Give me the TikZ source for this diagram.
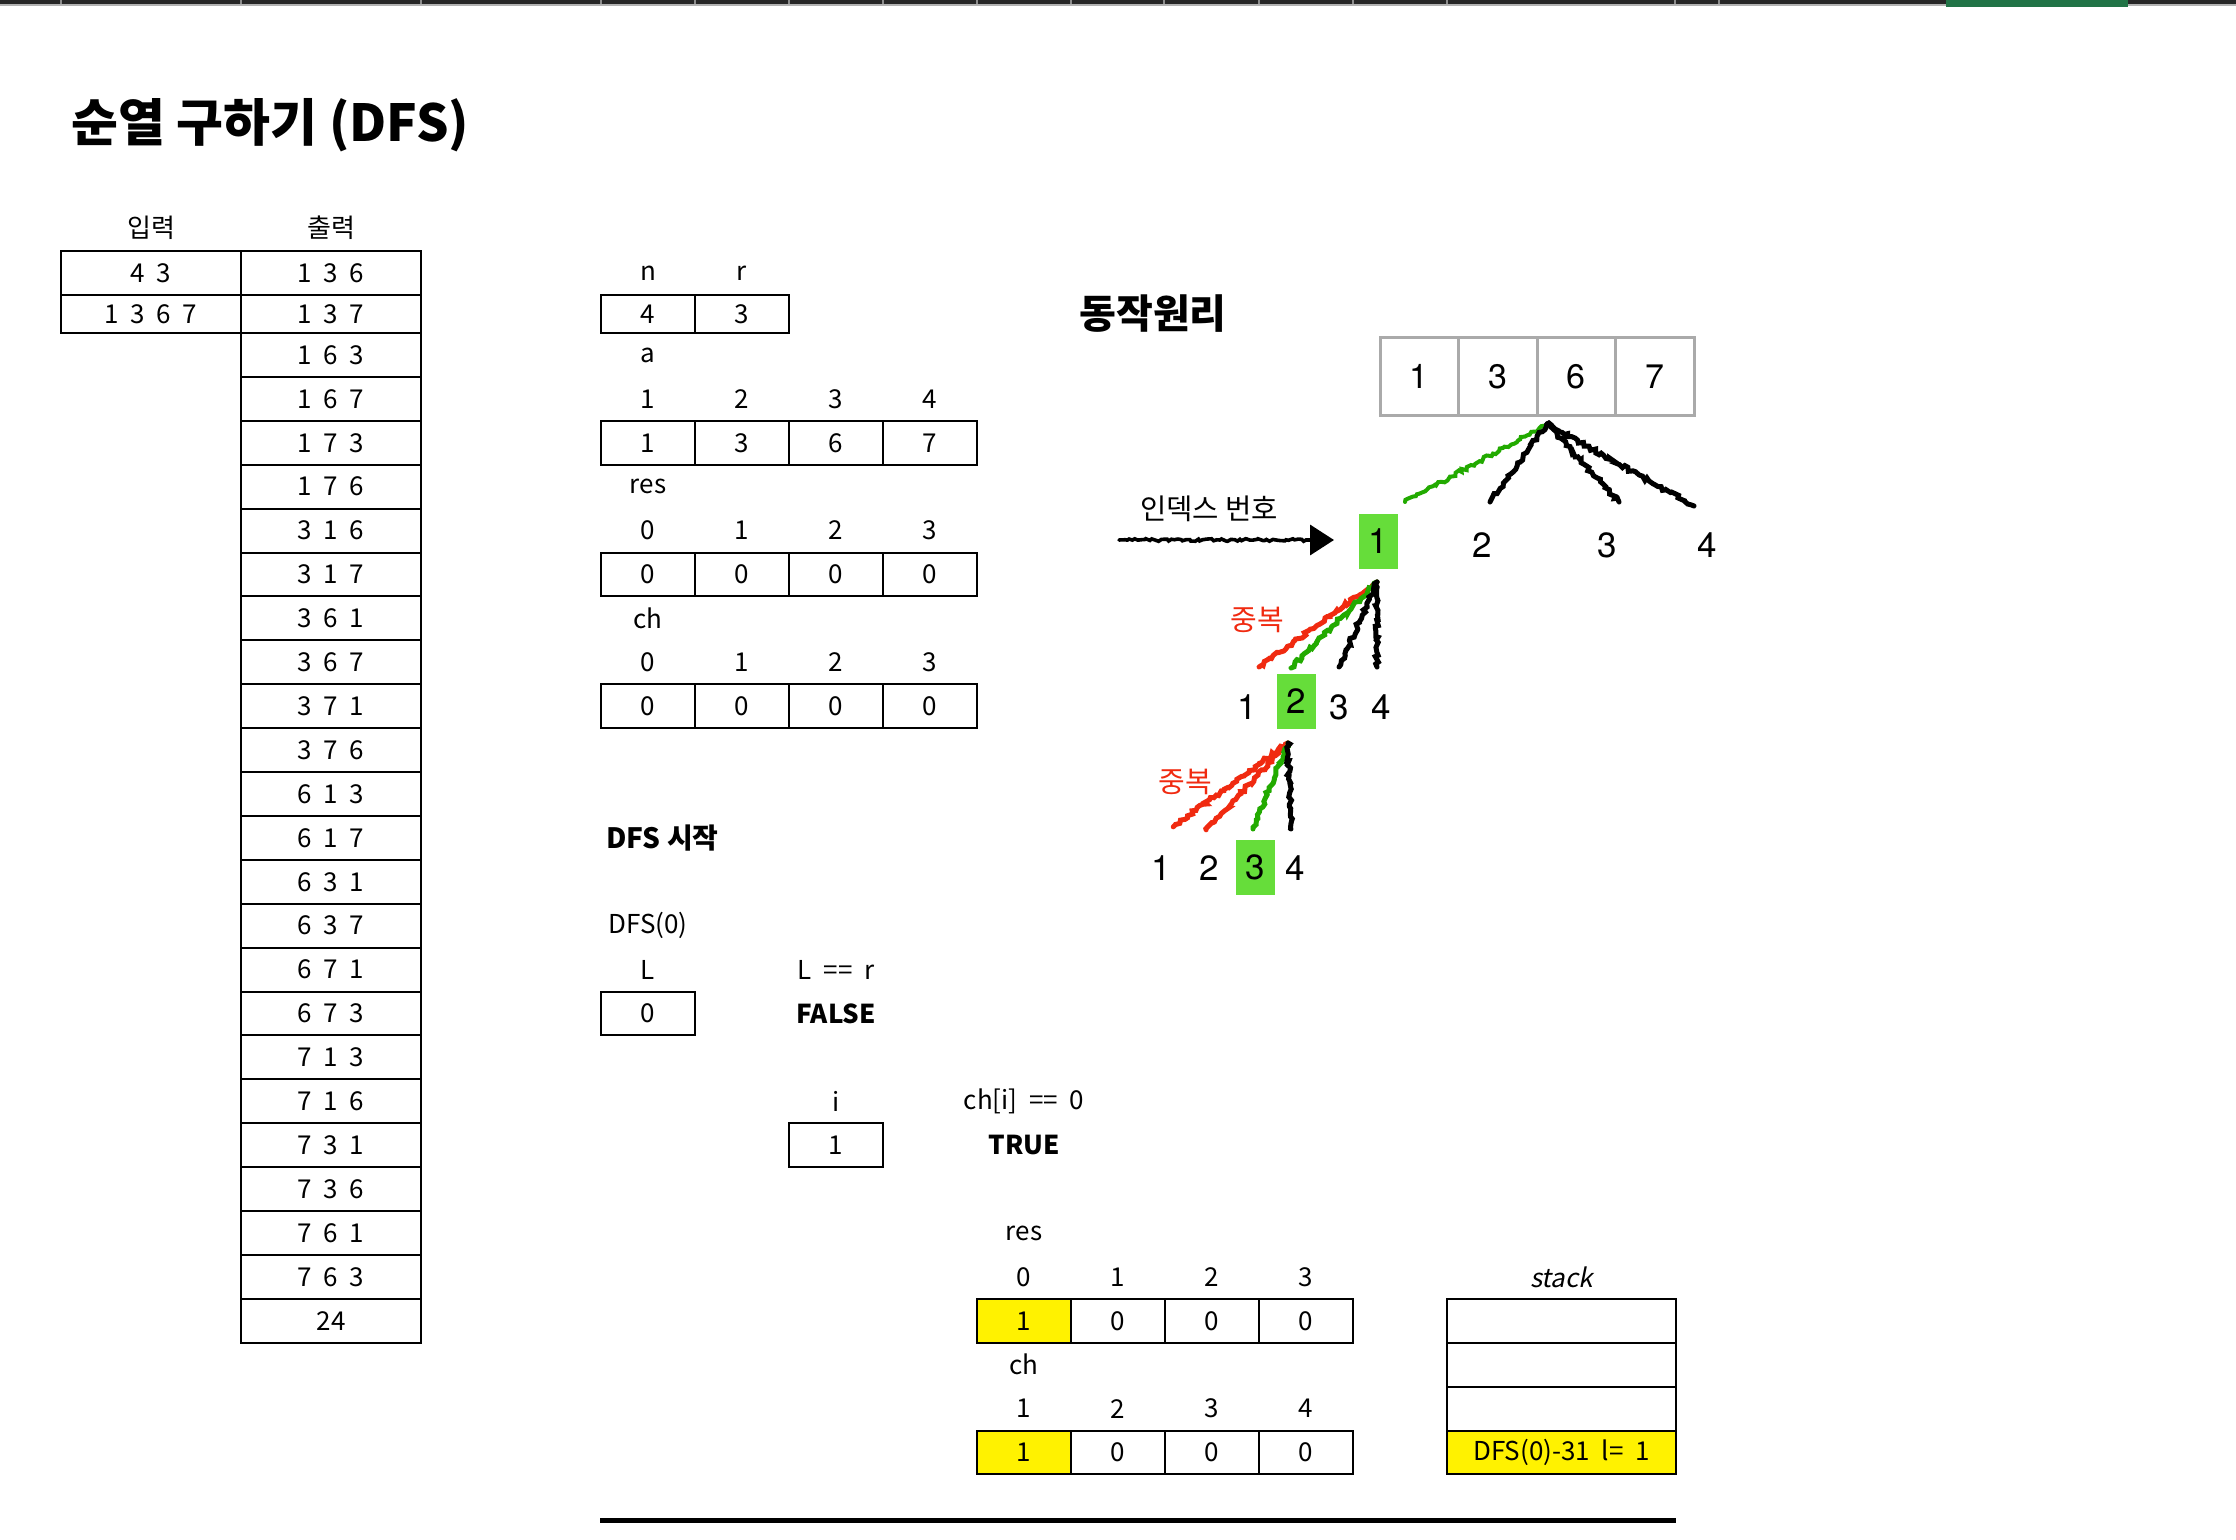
\documentclass[tikz,border=0pt]{standalone}
\usepackage{fontspec}
\setmainfont[WordSpace=2]{Noto Sans CJK KR}
\newfontfamily\headfont{Noto Sans CJK KR}
\newfontfamily\slantfont[FakeSlant=0.2]{Noto Sans CJK KR}
\newfontfamily\sketchfont{TeX Gyre Heros}
\usetikzlibrary{arrows.meta,decorations.pathmorphing}

\definecolor{sheetgreen}{HTML}{217346}
\definecolor{boxgreen}{HTML}{66DD3A}
\definecolor{linegreen}{HTML}{22AA00}
\definecolor{linered}{HTML}{F02A10}
\definecolor{arraygray}{HTML}{AAAAAA}

\begin{document}
\begin{tikzpicture}[x=0.5pt, y=-0.5pt,
    cell/.style={draw, line width=1pt, inner sep=0pt, minimum width=47pt, minimum height=21.95pt, font=\fontsize{13}{14}\selectfont},
    wide/.style={minimum width=90pt},
    tag/.style={inner sep=0pt, font=\fontsize{13}{14}\selectfont},
    strong/.style={inner sep=0pt, font=\bfseries\fontsize{13}{14}\selectfont},
    hot/.style={fill=yellow},
    arr/.style={draw=arraygray, line width=1.5pt, inner sep=0pt, minimum width=39.25pt, minimum height=38.5pt, font=\sketchfont\fontsize{17}{17}\selectfont},
    sketch/.style={line width=2.5pt, line cap=round, decorate, decoration={random steps, segment length=1.4pt, amplitude=0.9pt}},
    pick/.style={fill=boxgreen, minimum width=19.5pt, minimum height=27.5pt},
    num/.style={inner sep=0pt, font=\sketchfont\fontsize{17.5}{18}\selectfont},
    dup/.style={inner sep=0pt, text=linered, font=\headfont\fontsize{14.5}{15}\selectfont}]
    \pgfmathsetseed{7}
    \useasboundingbox (0,0) rectangle (2236,1540);

    % sheet header strip
    \fill[black!85] (0,0) rectangle (2236,4);
    \fill[black!30] (0,4) rectangle (2236,6);
    \foreach \x in {61,241,421,601,695,789,883,977,1071,1164,1259,1353,1447,1675,1719}
        \draw[black!45, line width=0.8pt] (\x,0) -- (\x,4);
    \fill[sheetgreen] (1946,0) rectangle (2128,7);

    % title
    \node[inner sep=0pt, anchor=west, font=\headfont\bfseries\fontsize{25.5}{27}\selectfont] (title) at (71,125) {순열 구하기 (DFS)};

    % input / output
    \node[tag] (inhead) at (151,228) {입력};
    \node[tag] (outhead) at (331,228) {출력};
    \node[cell, wide, minimum height=22pt] (in1) at (151,273) {4 3};
    \node[cell, wide, minimum height=19pt] (in2) at (151,314) {1 3 6 7};
    \node[cell, wide, minimum height=22pt] (out1) at (331,273) {1 3 6};
    \node[cell, wide, minimum height=19pt] (out2) at (331,314) {1 3 7};
    \foreach \t [count=\k from 3, evaluate=\k as \yy using 354.95+(\k-3)*43.9] in
        {1 6 3, 1 6 7, 1 7 3, 1 7 6, 3 1 6, 3 1 7, 3 6 1, 3 6 7, 3 7 1, 3 7 6, 6 1 3, 6 1 7,
         6 3 1, 6 3 7, 6 7 1, 6 7 3, 7 1 3, 7 1 6, 7 3 1, 7 3 6, 7 6 1, 7 6 3, 24}
        \node[cell, wide] (out\k) at (331,\yy) {\t};

    % n, r
    \node[tag] (nname) at (648,273) {n};
    \node[tag] (rname) at (742,273) {r};
    \node[cell, minimum height=19pt] (nval) at (648,314) {4};
    \node[cell, minimum height=19pt] (rval) at (742,314) {3};

    % a
    \node[tag] (aname) at (648,355) {a};
    \foreach \v [count=\c from 0] in {1,2,3,4}
        \node[tag] (aidx\c) at ({648+94*\c},398.85) {\v};
    \foreach \v [count=\c from 0] in {1,3,6,7}
        \node[cell] (aval\c) at ({648+94*\c},442.75) {\v};

    % res, ch
    \node[tag] (resname) at (648,486.65) {res};
    \node[tag] (chname) at (648,618.35) {ch};
    \foreach \c in {0,...,3} {
        \node[tag] (residx\c) at ({648+94*\c},530.55) {\c};
        \node[cell] (resval\c) at ({648+94*\c},574.45) {0};
        \node[tag] (chidx\c) at ({648+94*\c},662.25) {\c};
        \node[cell] (chval\c) at ({648+94*\c},706.15) {0};
    }

    % DFS start
    \node[inner sep=0pt, anchor=west, font=\headfont\bfseries\fontsize{14}{15}\selectfont] (dfsstart) at (606,837.85) {DFS 시작};
    \node[tag, anchor=west] (dfscall) at (608,925.65) {DFS(0)};
    \node[tag] (lname) at (648,969.55) {L};
    \node[cell] (lval) at (648,1013.45) {0};
    \node[tag] (lcond) at (836,969.55) {L == r};
    \node[strong] (lres) at (836,1013.45) {FALSE};
    \node[tag] (iname) at (836,1101.25) {i};
    \node[cell] (ival) at (836,1145.15) {1};
    \node[tag] (icond) at (1024,1101.25) {ch[i] == 0};
    \node[strong] (ires) at (1024,1145.15) {TRUE};

    % res, ch after pick
    \node[tag] (resnameb) at (1024,1232.95) {res};
    \node[tag] (chnameb) at (1024,1364.65) {ch};
    \foreach \c in {0,...,3}
        \node[tag] (residxb\c) at ({1024+94*\c},1276.85) {\c};
    \foreach \v [count=\c from 0] in {1,2,3,4}
        \node[tag] (chidxb\c) at ({1024+94*\c},1408.55) {\v};
    \node[cell, hot] (resb0) at (1024,1320.75) {1};
    \node[cell, hot] (chb0) at (1024,1452.45) {1};
    \foreach \c in {1,2,3} {
        \node[cell] (resb\c) at ({1024+94*\c},1320.75) {0};
        \node[cell] (chb\c) at ({1024+94*\c},1452.45) {0};
    }

    % stack
    \node[tag, font=\slantfont\fontsize{13}{14}\selectfont] (stackname) at (1561.5,1276.85) {stack};
    \foreach \c in {1,2,3}
        \node[cell, minimum width=114.5pt] (stack\c) at ({1561.5},{1320.75+43.9*(\c-1)}) {};
    \node[cell, hot, minimum width=114.5pt] (stack4) at (1561.5,1452.45) {DFS(0)-31 l= 1};

    \draw[line width=2.5pt] (600,1520) -- (1676,1520);

    % how it works
    \node[inner sep=0pt, font=\headfont\bfseries\fontsize{20}{22}\selectfont] (howto) at (1153,314) {동작원리};
    \foreach \v [count=\c from 0] in {1,3,6,7}
        \node[arr] (arr\c) at ({1419.25+78.5*\c},376.5) {\v};
    \coordinate (root) at (1547,424);

    % level 1
    \node[num, pick] (one1) at (1378,541) {1};
    \node[num] (one2) at (1482,545) {2};
    \node[num] (one3) at (1607,545) {3};
    \node[num] (one4) at (1707,545) {4};
    \coordinate (e11) at (1405,502);
    \coordinate (e12) at (1490,502);
    \coordinate (e13) at (1619,502);
    \coordinate (e14) at (1694,506);
    \draw[sketch, linegreen, line width=2pt] (root) -- (e11);
    \draw[sketch] (root) -- (e12);
    \draw[sketch] (root) -- (e13);
    \draw[sketch] (root) -- (e14);

    % index arrow
    \node[inner sep=0pt, font=\headfont\fontsize{14.3}{15}\selectfont] (idxname) at (1209,509) {인덱스 번호};
    \coordinate (idxfrom) at (1119,540);
    \coordinate (idxto) at (1334,540);
    \draw[sketch, line width=1.8pt, -{Triangle[length=12pt,width=15pt]},
        decoration={random steps, segment length=1.4pt, amplitude=0.7pt, post length=14pt}] (idxfrom) -- (idxto);

    % level 2
    \coordinate (top2) at (1377,582);
    \node[num] (two1) at (1247,707) {1};
    \node[num, pick] (two2) at (1296,701) {2};
    \node[num] (two3) at (1339,707) {3};
    \node[num] (two4) at (1381,707) {4};
    \coordinate (e21) at (1259,667);
    \coordinate (e22) at (1291,668);
    \coordinate (e23) at (1339,667);
    \coordinate (e24) at (1377,667);
    \draw[sketch, linered] (top2) -- (e21);
    \draw[sketch, linegreen] (top2) -- (e22);
    \draw[sketch] (top2) -- (e23);
    \draw[sketch] (top2) -- (e24);
    \node[dup] (dupa) at (1257,620) {중복};

    % level 3
    \coordinate (top3) at (1288,743);
    \node[num] (three1) at (1161,868) {1};
    \node[num] (three2) at (1209,868) {2};
    \node[num, pick] (three3) at (1255,867) {3};
    \node[num] (three4) at (1295,868) {4};
    \coordinate (e31) at (1173,827);
    \coordinate (e32) at (1206,830);
    \coordinate (e33) at (1253,829);
    \coordinate (e34) at (1291,829);
    \draw[sketch, linered] (top3) -- (e31);
    \draw[sketch, linered] (top3) -- (e32);
    \draw[sketch, linegreen] (top3) -- (e33);
    \draw[sketch] (top3) -- (e34);
    \node[dup] (dupb) at (1185,782) {중복};
\end{tikzpicture}
\end{document}
